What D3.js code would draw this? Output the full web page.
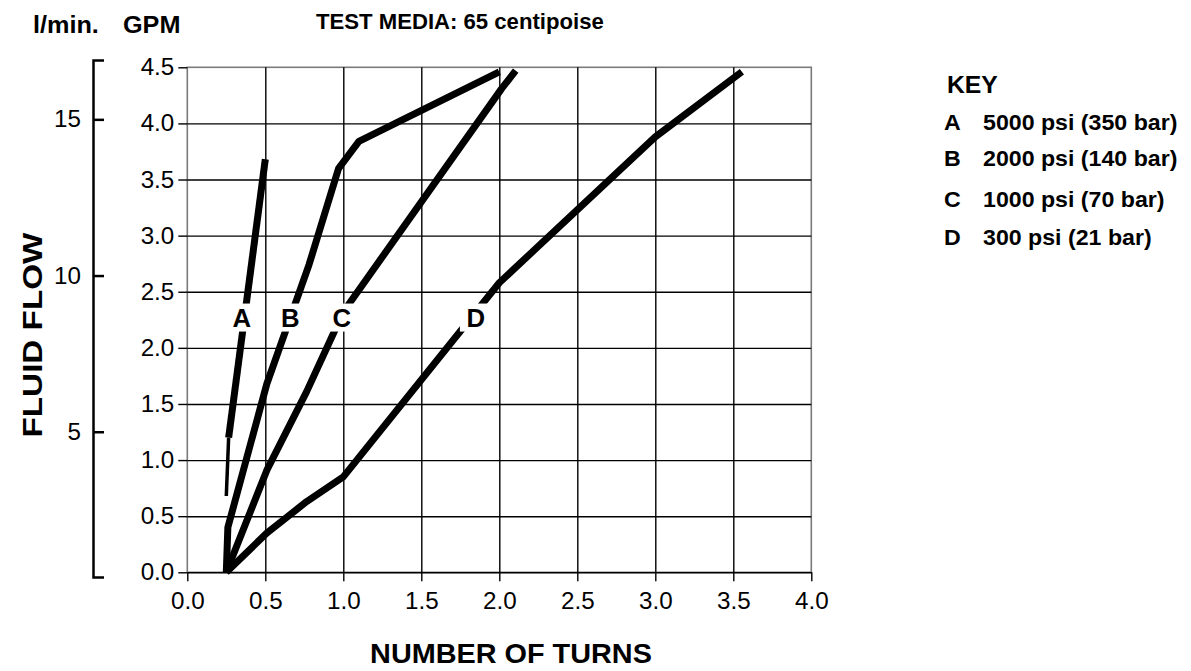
<!DOCTYPE html>
<html>
<head>
<meta charset="utf-8">
<script src="https://cdn.jsdelivr.net/npm/d3@7"></script>
<style>
body { margin: 0; background: #fff; }
svg { display: block; font-family: "Liberation Sans", Arial, Helvetica, sans-serif; }
</style>
</head>
<body>
<svg id="chart" width="1191" height="671"></svg>
<script>
// axis ticks
const xTicks = [0, 0.5, 1.0, 1.5, 2.0, 2.5, 3.0, 3.5, 4.0]
const yTicks = [0, 0.5, 1.0, 1.5, 2.0, 2.5, 3.0, 3.5, 4.0, 4.5]
const lpmTicks = [5, 10, 15]
const lpmExtent = [0.35, 16.9]

// curves: [turns, GPM]
const curveA = [[0.25, 0.68], [0.265, 1.2], [0.5, 3.68]]
const curveB = [[0.25, 0], [0.26, 0.4], [0.51, 1.68], [0.78, 2.74], [0.97, 3.6], [1.1, 3.84], [2.0, 4.46]]
const curveC = [[0.25, 0], [0.51, 0.91], [0.765, 1.61], [1.0, 2.32], [2.015, 4.31], [2.105, 4.47]]
const curveD = [[0.25, 0], [0.51, 0.35], [0.765, 0.63], [1.0, 0.85], [2.0, 2.58], [3.0, 3.88], [3.555, 4.46]]

const curveNames = ['A', 'B', 'C', 'D']
const labelX = [0.35, 0.66, 0.99, 1.85]
const labelY = [2.27, 2.27, 2.27, 2.27]
const keyLabels = ['5000 psi (350 bar)', '2000 psi (140 bar)', '1000 psi (70 bar)', '300 psi (21 bar)']

const SX = 1.03  // source lettering runs a touch wide

const svg = d3.select('#chart')

const x = d3.scaleLinear().domain([0, 4]).range([187.3, 811.3])
const y = d3.scaleLinear().domain([0, 4.5]).range([572.3, 67.3])
const lpm = d3.scaleLinear().domain(lpmExtent).range([577, 60])

function label(sel, txt, px, py, size, weight, anchor) {
    return sel.append('text')
        .attr('transform', `translate(${px},${py}) scale(${SX},1)`)
        .attr('font-size', size)
        .attr('font-weight', weight)
        .attr('text-anchor', anchor || 'start')
        .attr('fill', '#000')
        .text(txt)
}

// plot frame (grey)
svg.append('rect')
    .attr('x', x(0)).attr('y', y(4.5))
    .attr('width', x(4) - x(0)).attr('height', y(0) - y(4.5))
    .attr('fill', 'none')
    .attr('stroke', '#7a7a7a')
    .attr('stroke-width', 1.6)

// grid
const gridH = svg.append('g')
    .attr('transform', `translate(${x(0)},0)`)
    .call(d3.axisLeft(y).tickValues(yTicks.filter(d => d > 0 && d < 4.5)).tickSize(-(x(4) - x(0))).tickFormat(''))
gridH.select('.domain').remove()

const gridV = svg.append('g')
    .attr('transform', `translate(0,${y(4.5)})`)
    .call(d3.axisTop(x).tickValues(xTicks.filter(d => d > 0 && d < 4)).tickSize(-(y(0) - y(4.5))).tickFormat(''))
gridV.select('.domain').remove()

svg.selectAll('.tick line').attr('stroke', '#000').attr('stroke-width', 1.4)

// curves
const line = d3.line().x(d => x(d[0])).y(d => y(d[1]))
const curves = [curveA.slice(1), curveB, curveC, curveD]

svg.append('g').selectAll('path')
    .data(curves)
    .join('path')
    .attr('d', line)
    .attr('fill', 'none')
    .attr('stroke', '#000')
    .attr('stroke-width', 7)
    .attr('stroke-linejoin', 'round')

// thin tail of A
svg.append('path')
    .attr('d', line(curveA.slice(0, 2)))
    .attr('fill', 'none')
    .attr('stroke', '#000')
    .attr('stroke-width', 3.5)

// curve letters on white patches
const tags = svg.append('g').selectAll('g')
    .data(curveNames)
    .join('g')
    .attr('transform', (d, i) => `translate(${x(labelX[i])},${y(labelY[i])})`)

tags.append('rect')
    .attr('x', -16).attr('y', -14)
    .attr('width', 32).attr('height', 28)
    .attr('fill', '#fff')

tags.append('text')
    .attr('transform', `scale(${SX},1)`)
    .attr('text-anchor', 'middle')
    .attr('dy', '0.36em')
    .attr('font-size', 25)
    .attr('font-weight', 'bold')
    .text(d => d)

// x axis
const xAxis = svg.append('g')
    .attr('transform', `translate(0,${y(0)})`)
    .call(d3.axisBottom(x).tickValues(xTicks).tickSize(9).tickSizeOuter(0).tickFormat(d3.format('.1f')))
xAxis.attr('font-size', 23.5).attr('font-family', null)
xAxis.select('.domain').attr('stroke', '#000').attr('stroke-width', 1.4)
xAxis.selectAll('.tick line').attr('stroke', '#000').attr('stroke-width', 1.4)
xAxis.selectAll('.tick text')
    .attr('y', 0).attr('dy', 0)
    .attr('fill', '#000')
    .attr('transform', `translate(0,37) scale(${SX},1)`)

// y axis (GPM)
const yAxis = svg.append('g')
    .attr('transform', `translate(${x(0)},0)`)
    .call(d3.axisLeft(y).tickValues(yTicks).tickSize(9).tickFormat(d3.format('.1f')))
yAxis.attr('font-size', 23.5).attr('font-family', null)
yAxis.select('.domain').remove()
yAxis.selectAll('.tick line').attr('stroke', '#000').attr('stroke-width', 1.4)
yAxis.selectAll('.tick text')
    .attr('x', 0)
    .attr('fill', '#000')
    .attr('transform', `translate(-13,0) scale(${SX},1)`)

// l/min bracket axis
const lAxis = svg.append('g')
    .attr('transform', 'translate(93,0)')
    .call(d3.axisRight(lpm).tickValues(lpmTicks).tickSize(11))
lAxis.attr('font-size', 23.5).attr('font-family', null)
lAxis.select('.domain').attr('stroke', '#000').attr('stroke-width', 2.5)
lAxis.selectAll('.tick line').attr('stroke', '#000').attr('stroke-width', 2.5)
lAxis.selectAll('.tick text')
    .attr('x', 0)
    .attr('fill', '#000')
    .attr('text-anchor', 'end')
    .attr('transform', `translate(-12,0) scale(${SX},1)`)

// titles
label(svg, 'l/min.', 33, 33, 24.5, 'bold')
label(svg, 'GPM', 123, 33, 24.5, 'bold')
label(svg, 'TEST MEDIA: 65 centipoise', 316, 29, 21.5, 'bold')
label(svg, 'NUMBER OF TURNS', 511, 663, 28, 'bold', 'middle')

svg.append('text')
    .attr('transform', 'translate(42,335) rotate(-90)')
    .attr('text-anchor', 'middle')
    .attr('font-size', 28)
    .attr('font-weight', 'bold')
    .attr('textLength', 205)
    .attr('lengthAdjust', 'spacingAndGlyphs')
    .text('FLUID FLOW')

// key
const keyRows = [130, 166, 207, 245]
label(svg, 'KEY', 947, 93, 24, 'bold')
curveNames.forEach((n, i) => {
    label(svg, n, 944, keyRows[i], 22.5, 'bold')
    label(svg, keyLabels[i], 983, keyRows[i], 22.5, 'bold')
})
</script>
</body>
</html>
